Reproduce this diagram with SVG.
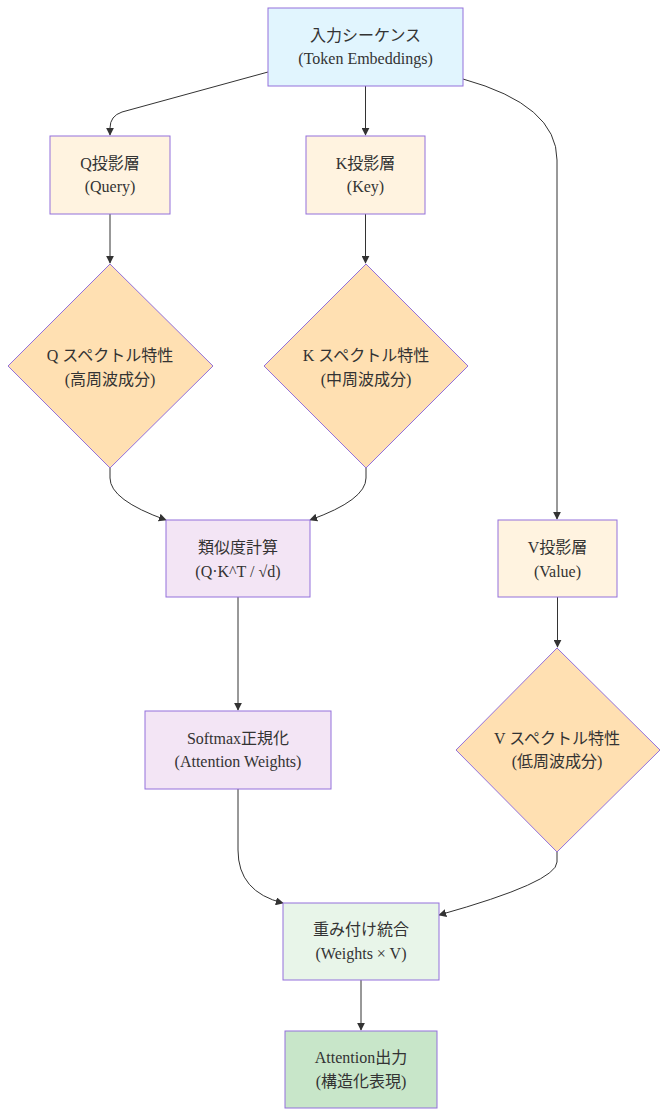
<svg xmlns="http://www.w3.org/2000/svg" width="669" height="1117" viewBox="0 0 669 1117">
<style>
text{font-family:"Liberation Serif","Noto Sans CJK JP",serif;font-size:16px;fill:#333;text-anchor:middle}
.n{stroke:#9370db;stroke-width:1}
.e{fill:none;stroke:#333;stroke-width:1}
</style>
<defs><marker id="a" viewBox="0 0 10 10" refX="9" refY="5" markerWidth="8" markerHeight="8" orient="auto"><path d="M0,0L10,5L0,10z" fill="#333"/></marker></defs>
<rect width="669" height="1117" fill="#fff"/>
<g id="edges">
<path class="e" marker-end="url(#a)" d="M268,72 L122,112 Q110,116 110,128 L110,135"/>
<path class="e" marker-end="url(#a)" d="M365.5,86 L365.5,135"/>
<path class="e" marker-end="url(#a)" d="M463,79 Q557,105 557,160 L557,519"/>
<path class="e" marker-end="url(#a)" d="M110,214 L110,263"/>
<path class="e" marker-end="url(#a)" d="M365.5,214 L365.5,263"/>
<path class="e" marker-end="url(#a)" d="M110,468 L110,478 Q110,500 166,520"/>
<path class="e" marker-end="url(#a)" d="M366,468 L366,478 Q366,500 310,520"/>
<path class="e" marker-end="url(#a)" d="M238,597 L238,710"/>
<path class="e" marker-end="url(#a)" d="M557.5,597 L557.5,647"/>
<path class="e" marker-end="url(#a)" d="M238,789 L238,850 Q238,892 283,903"/>
<path class="e" marker-end="url(#a)" d="M557,852 L557,862 Q557,882 439,915"/>
<path class="e" marker-end="url(#a)" d="M361,980 L361,1030"/>
</g>
<g id="input"><rect class="n" x="268" y="8" width="195" height="78" fill="#e1f5fe"/><text x="365.5" y="41">入力シーケンス</text><text x="365.5" y="64">(Token Embeddings)</text></g>
<g id="qproj"><rect class="n" x="50" y="136" width="120" height="78" fill="#fff3e0"/><text x="110" y="169">Q投影層</text><text x="110" y="192">(Query)</text></g>
<g id="kproj"><rect class="n" x="306" y="136" width="119" height="78" fill="#fff3e0"/><text x="365.5" y="169">K投影層</text><text x="365.5" y="192">(Key)</text></g>
<g id="qdia"><polygon class="n" points="110,264 213,366 110,468 8,366" fill="#ffe0b2"/><text x="110" y="361">Q スペクトル特性</text><text x="110" y="385">(高周波成分)</text></g>
<g id="kdia"><polygon class="n" points="366,264 468,366 366,468 264,366" fill="#ffe0b2"/><text x="366" y="361">K スペクトル特性</text><text x="366" y="385">(中周波成分)</text></g>
<g id="sim"><rect class="n" x="166" y="520" width="144" height="77" fill="#f3e5f5"/><text x="238" y="553">類似度計算</text><text x="238" y="577">(Q·K^T / √d)</text></g>
<g id="vproj"><rect class="n" x="498" y="520" width="119" height="77" fill="#fff3e0"/><text x="557.5" y="553">V投影層</text><text x="557.5" y="577">(Value)</text></g>
<g id="softmax"><rect class="n" x="145" y="711" width="186" height="78" fill="#f3e5f5"/><text x="238" y="744">Softmax正規化</text><text x="238" y="767">(Attention Weights)</text></g>
<g id="vdia"><polygon class="n" points="557,648 660,750 557,852 456,750" fill="#ffe0b2"/><text x="557" y="744">V スペクトル特性</text><text x="557" y="767">(低周波成分)</text></g>
<g id="weighted"><rect class="n" x="283" y="903" width="156" height="77" fill="#e8f5e9"/><text x="361" y="935">重み付け統合</text><text x="361" y="959">(Weights × V)</text></g>
<g id="output"><rect class="n" x="285" y="1031" width="152" height="77" fill="#c8e6c9"/><text x="361" y="1063">Attention出力</text><text x="361" y="1087">(構造化表現)</text></g>
</svg>
